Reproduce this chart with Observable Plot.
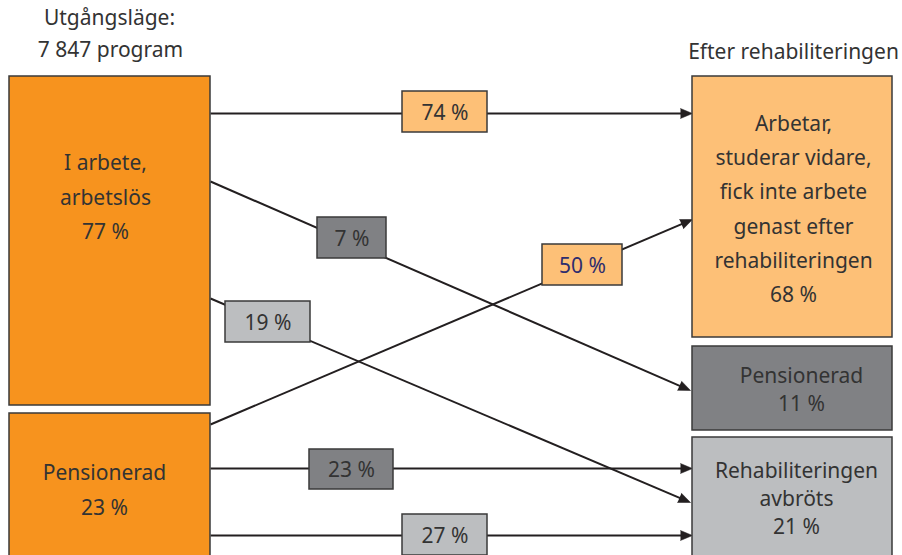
<!DOCTYPE html>
<html>
<head>
<meta charset="utf-8">
<script src="https://cdn.jsdelivr.net/npm/d3@7"></script>
<script src="https://cdn.jsdelivr.net/npm/@observablehq/plot@0.6"></script>
<style>
  html, body { margin: 0; padding: 0; background: #fff; overflow: hidden; }
</style>
</head>
<body>
<div id="chart"></div>
<script>
// ---- Data ----
const startTitle = ["Utgångsläge:", "7 847 program"];
const endTitle = ["Efter rehabiliteringen"];
const sourceCategories = ["I arbete,\narbetslös", "Pensionerad"];
const sourceShares = [77, 23];
const outcomeCategories = ["Arbetar,\nstuderar vidare,\nfick inte arbete\ngenast efter\nrehabiliteringen", "Pensionerad", "Rehabiliteringen\navbröts"];
const outcomeShares = [68, 11, 21];
const flowFrom = [0, 0, 0, 1, 1, 1];
const flowTo = [0, 1, 2, 0, 1, 2];
const flowShares = [74, 7, 19, 50, 23, 27];

// ---- Layout (pixel units of the diagram) ----
const FS = 21;
const sourceBoxes = [
  {x1: 9, x2: 210, y1: 76, y2: 405, tx: 105, ty: 193, lh: 34.5 / FS},
  {x1: 9, x2: 210, y1: 413, y2: 560, tx: 104, ty: 486, lh: 35 / FS}
];
const outcomeBoxes = [
  {x1: 692, x2: 892, y1: 76, y2: 337, tx: 793, ty: 205, lh: 34.2 / FS},
  {x1: 692, x2: 892, y1: 346, y2: 430, tx: 801, ty: 388, lh: 28 / FS},
  {x1: 692, x2: 892, y1: 437, y2: 560, tx: 796, ty: 497, lh: 28 / FS}
];
const flowLayout = [
  {y1: 113, x2: 692, y2: 113, bx1: 402, bx2: 487, by1: 91, by2: 132},
  {y1: 181, x2: 690, y2: 390, bx1: 317, bx2: 386, by1: 217, by2: 258},
  {y1: 298, x2: 690, y2: 502, bx1: 225, bx2: 310, by1: 301, by2: 342},
  {y1: 424, x2: 692, y2: 219, bx1: 542, bx2: 622, by1: 244, by2: 285},
  {y1: 468, x2: 692, y2: 468, bx1: 309, bx2: 393, by1: 449, by2: 489},
  {y1: 535, x2: 692, y2: 535, bx1: 402, bx2: 487, by1: 514, by2: 555}
];

// ---- Styles ----
const sourceFill = "#F7931E";
const outcomeFills = ["#FDC077", "#808184", "#BCBEC0"];
const boxStroke = "#3a3a3a";
const lineColor = "#231F20";
const textColor = "#333333";
const labelTextColors = [textColor, textColor, textColor, "#2E2D6E", textColor, textColor];

// ---- Build tables ----
const sources = sourceCategories.map((c, i) => ({
  ...sourceBoxes[i], label: `${c}\n${sourceShares[i]} %`
}));
const outcomes = outcomeCategories.map((c, i) => ({
  ...outcomeBoxes[i], label: `${c}\n${outcomeShares[i]} %`, fill: outcomeFills[i]
}));
const flows = flowShares.map((v, i) => {
  const L = flowLayout[i];
  const x1 = sourceBoxes[flowFrom[i]].x2;
  const dx = L.x2 - x1, dy = L.y2 - L.y1;
  const len = Math.hypot(dx, dy);
  return {
    ...L, x1,
    lx2: L.x2 - dx / len * 8, ly2: L.y2 - dy / len * 8,
    angle: Math.atan2(dx, -dy) * 180 / Math.PI,
    label: `${v} %`,
    fill: outcomeFills[flowTo[i]],
    color: labelTextColors[i]
  };
});

const titles = [
  {x: 109, y: 18, text: startTitle[0]},
  {x: 110, y: 50, text: startTitle[1]},
  {x: 793, y: 52, text: endTitle[0]}
];

const textMarks = (rows) => rows.map(r =>
  Plot.text([r], {x: "tx", y: "ty", text: "label", fill: textColor, fontSize: FS, lineHeight: r.lh}));

const chart = Plot.plot({
  width: 902,
  height: 555,
  margin: 0,
  x: {domain: [0, 902], range: [0, 902], axis: null},
  y: {domain: [0, 555], range: [0, 555], axis: null},
  style: {fontFamily: "'Noto Sans', sans-serif", fontSize: FS + "px", background: "#fff", overflow: "hidden"},
  marks: [
    // flow lines
    Plot.link(flows, {x1: "x1", y1: "y1", x2: "lx2", y2: "ly2", stroke: lineColor, strokeWidth: 2}),
    // arrowheads
    Plot.vector(flows, {x: "x2", y: "y2", rotate: "angle", length: 12, r: 5, anchor: "end", shape: "spike",
      fill: lineColor, fillOpacity: 1, stroke: lineColor, strokeWidth: 0.5}),
    // source boxes
    Plot.rect(sources, {x1: "x1", x2: "x2", y1: "y1", y2: "y2", fill: sourceFill, stroke: boxStroke, strokeWidth: 1.5}),
    ...textMarks(sources),
    // outcome boxes
    Plot.rect(outcomes, {x1: "x1", x2: "x2", y1: "y1", y2: "y2", fill: "fill", stroke: boxStroke, strokeWidth: 1.5}),
    ...textMarks(outcomes),
    // flow labels
    Plot.rect(flows, {x1: "bx1", x2: "bx2", y1: "by1", y2: "by2", fill: "fill", stroke: boxStroke, strokeWidth: 1.5}),
    Plot.text(flows, {x: d => (d.bx1 + d.bx2) / 2, y: d => (d.by1 + d.by2) / 2 + 1, text: "label", fill: "color", fontSize: FS}),
    // titles
    Plot.text(titles, {x: "x", y: "y", text: "text", fill: textColor, fontSize: FS})
  ]
});
document.getElementById("chart").appendChild(chart);
</script>
</body>
</html>
